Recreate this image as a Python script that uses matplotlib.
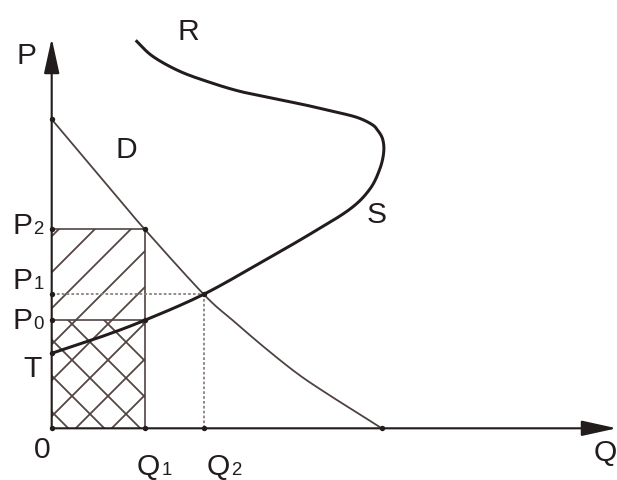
import numpy as np
import matplotlib
matplotlib.use("Agg")
import matplotlib.pyplot as plt
from matplotlib.patches import Rectangle

# ---- data (economic units) ----
Q1, Q2 = 9.3, 15.2
P0, P1, P2, T = 10.8, 13.4, 19.9, 7.5

D_q = [0.0, 6.5, 9.3, 15.2, 18.1, 21.5, 24.8, 28.1, 30.8, 33.0]
D_p = [30.9, 23.2, 19.9, 13.4, 10.8, 7.9, 5.3, 3.1, 1.4, 0.0]

S_q = [0.0, 4.8, 9.3, 15.2, 21.3, 25.8, 29.8, 31.8, 32.8, 33.2, 33.1, 32.6,
       32.0, 30.5, 28.1, 25.5, 22.1, 18.8, 15.8, 12.8, 10.1, 8.4]
S_p = [7.5, 9.1, 10.8, 13.4, 16.8, 19.4, 21.9, 23.9, 25.9, 27.6, 28.9, 29.8,
       30.4, 31.1, 31.7, 32.3, 33.0, 33.7, 34.6, 35.7, 37.2, 38.8]

X_TIP, Y_TIP = 56.5, 39.0

plt.rcParams['font.family'] = ['Liberation Sans', 'DejaVu Sans']
plt.rcParams['hatch.linewidth'] = 0.6


def smooth(xs, ys, n=20):
    pts = np.column_stack([xs, ys])
    P = np.vstack([2 * pts[0] - pts[1], pts, 2 * pts[-1] - pts[-2]])
    out = []
    for i in range(1, len(P) - 2):
        p0, p1, p2, p3 = P[i - 1], P[i], P[i + 1], P[i + 2]
        t = np.linspace(0, 1, n, endpoint=False)[:, None]
        seg = 0.5 * ((2 * p1) + (-p0 + p2) * t + (2 * p0 - 5 * p1 + 4 * p2 - p3) * t ** 2
                     + (-p0 + 3 * p1 - 3 * p2 + p3) * t ** 3)
        out.append(seg)
    out.append(pts[-1:])
    a = np.vstack(out)
    return a[:, 0], a[:, 1]


DPI = 216
fig = plt.figure(figsize=(617 / DPI, 481 / DPI), dpi=DPI)
ax = fig.add_axes([0, 0, 1, 1])
ax.set_xlim(-5.17, 56.53)
ax.set_ylim(-5.17, 42.93)
ax.axis('off')

dark = '#231c1c'
thin = '#4e4240'
hatchc = '#544643'

# hatched areas
ax.add_patch(Rectangle((0, 0), Q1, P2, facecolor='none', edgecolor=hatchc,
                       linewidth=0, hatch='//'))
ax.add_patch(Rectangle((0, 0), Q1, P0, facecolor='none', edgecolor=hatchc,
                       linewidth=0, hatch='\\\\'))

# rectangle edges
ax.plot([0, Q1], [P2, P2], color=thin, lw=0.55)
ax.plot([0, Q1], [P0, P0], color=thin, lw=0.55)
ax.plot([Q1, Q1], [0, P2], color=thin, lw=0.55)

# dotted guides
ax.plot([0, Q2], [P1, P1], color='#8a807e', lw=0.6, ls=(0, (1.5, 1.2)))
ax.plot([Q2, Q2], [0, P1], color='#8a807e', lw=0.6, ls=(0, (1.5, 1.2)))

# demand curve
dx, dy = smooth(D_q, D_p)
ax.plot(dx, dy, color=thin, lw=0.6)

# supply curve
sx, sy = smooth(S_q, S_p)
ax.plot(sx, sy, color=dark, lw=1.0, solid_capstyle='butt')

# axes with arrows
arrow = dict(arrowstyle='-|>,head_length=1.0,head_width=0.22', mutation_scale=10,
             lw=0.7, color=dark, shrinkA=0, shrinkB=0)
ax.annotate('', xy=(X_TIP, 0), xytext=(0, 0), arrowprops=arrow)
ax.annotate('', xy=(0, Y_TIP), xytext=(0, 0), arrowprops=arrow)

# dots
dots_q = [0, 0, 0, 0, 0, Q1, Q2, D_q[-1], Q1, Q2, Q1, 0]
dots_p = [D_p[0], P2, P1, P0, T, 0, 0, 0, P2, P1, P0, 0]
ax.plot(dots_q, dots_p, 'o', color=dark, ms=1.8, mew=0)

fs = 10
sfs = 6.2


def lab(x, y, s, ha='center'):
    ax.text(x, y, s, fontsize=fs, ha=ha, va='baseline', color=dark)


def sub(xr, y, main, s):
    # main letter right-aligned at xr, subscript just to its right on same baseline
    ax.text(xr, y, main, fontsize=fs, ha='right', va='baseline', color=dark)
    ax.text(xr + 0.1, y, s, fontsize=sfs, ha='left', va='baseline', color=dark)


lab(-2.55, 36.55, 'P')
lab(13.7, 38.95, 'R')
lab(7.45, 27.15, 'D')
lab(32.45, 20.65, 'S')

sub(-1.95, 19.55, 'P', '2')
sub(-1.95, 14.05, 'P', '1')
sub(-1.95, 10.05, 'P', '0')
lab(-0.95, 5.25, 'T', ha='right')
lab(-0.92, -2.87, '0')
sub(10.85, -4.6, 'Q', '1')
sub(17.85, -4.6, 'Q', '2')
lab(54.2, -3.22, 'Q', ha='left')

fig.savefig('out.png', dpi=DPI, facecolor='white')
